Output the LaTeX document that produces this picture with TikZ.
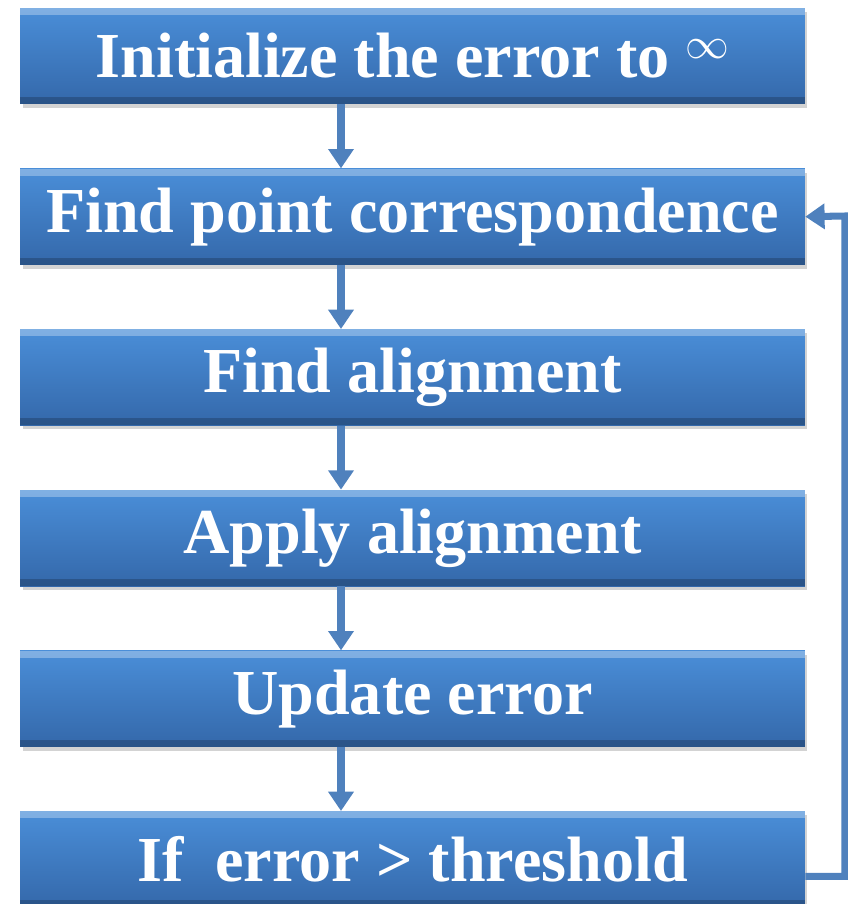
\documentclass[tikz,border=0pt]{standalone}
\usepackage{fontspec}
\setmainfont{Liberation Serif}
\usepackage{tikz}
\usetikzlibrary{arrows.meta, positioning, shadows}

\definecolor{boxtop}{RGB}{74,142,216}
\definecolor{boxbot}{RGB}{52,104,170}
\definecolor{arrowblue}{RGB}{79,129,189}

\begin{document}
\begin{tikzpicture}[
            x=0.02cm, y=-0.02cm,
            node distance=1.28cm,
            stepbox/.style={rectangle, top color=boxtop, bottom color=boxbot,
                            minimum width=15.7cm, minimum height=1.92cm, align=center,
                            text=white, font=\fontsize{36.5}{42}\selectfont\bfseries,
                            drop shadow={shadow xshift=0.5mm, shadow yshift=-0.8mm, opacity=0.35},
                            path picture={
                              \fill[white, opacity=0.3] (path picture bounding box.north west)
                                rectangle ([yshift=-4pt]path picture bounding box.north east);
                              \fill[black, opacity=0.2] (path picture bounding box.south west)
                                rectangle ([yshift=4pt]path picture bounding box.south east);
                            }},
            arrow/.style   ={-{Triangle[length=11pt, width=14pt]}, line width=4pt, draw=arrowblue}
        ]
        \useasboundingbox (0,0) rectangle (848,904);
        \node[stepbox] (init) at (412.5,56)
          {Initialize the error to \raisebox{0.3em}{\fontsize{24}{24}\selectfont$\infty$}};
        \node[stepbox, below=of init]  (corr)  {Find point correspondence};
        \node[stepbox, below=of corr]  (align) {Find alignment};
        \node[stepbox, below=of align] (apply) {Apply alignment};
        \node[stepbox, below=of apply] (upd)   {Update error};
        \node[stepbox, below=of upd]   (check) {If\ \ error > threshold};
        \coordinate (axis) at (341,0);
        \coordinate (turn) at (845,216);

        \draw[arrow] (init.south -| axis)  -- (corr.north -| axis);
        \draw[arrow] (corr.south -| axis)  -- (align.north -| axis);
        \draw[arrow] (align.south -| axis) -- (apply.north -| axis);
        \draw[arrow] (apply.south -| axis) -- (upd.north -| axis);
        \draw[arrow] (upd.south -| axis)   -- (check.north -| axis);
        \draw[arrow] ([yshift=-0.34cm]check.east) -| (turn) -- (corr.east);
\end{tikzpicture}
\end{document}
